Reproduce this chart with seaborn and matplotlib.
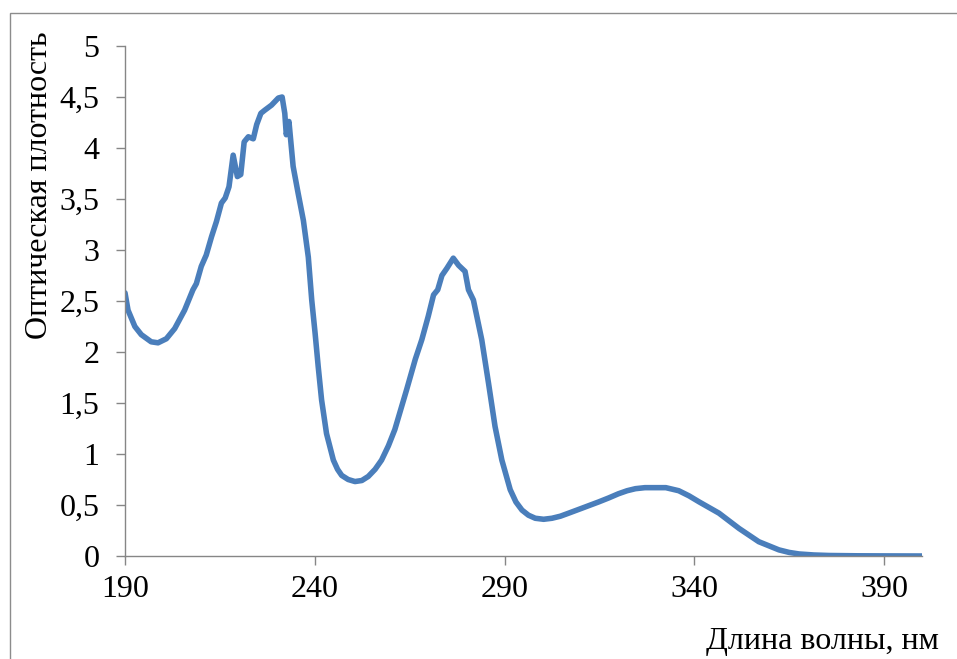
import numpy as np
import pandas as pd
import seaborn as sns
import matplotlib
matplotlib.use("Agg")
import matplotlib.pyplot as plt
from matplotlib.patches import Rectangle
from matplotlib.ticker import FuncFormatter

wavelength = [190, 190.8, 192.6, 194.3, 196.9, 198.7, 200.9, 203.1, 205.7, 207.9,
              208.8, 210.1, 211.4, 212.8, 214.1, 215.4, 216.4, 217.4, 218.5, 219.6,
              220.5, 221.4, 222.5, 223.8, 224.7, 225.8, 226.8, 228.6, 230.4, 231.4,
              232.1, 232.5, 233.2, 234.3, 235.6, 237.0, 238.3, 239.2, 240.1, 240.9,
              241.8, 243.1, 244.9, 246.0, 247.1, 248.8, 250.6, 252.4, 254.1, 255.9,
              257.6, 259.4, 261.1, 264.2, 266.5,
              268.2, 269.9, 271.3, 272.4, 273.5, 274.8, 276.5, 277.9, 279.6, 280.5,
              281.8, 284.0, 285.8, 287.5, 289.3, 291.5, 293.0, 294.6, 296.3, 298.1,
              300.3, 302.5, 304.7, 306.9, 310.5, 314.8, 317.5, 320.0, 322.3, 324.5,
              327.0, 329.3, 332.5, 335.9, 338.6, 341.3, 346.5, 351.8, 357.0,
              362.3, 365.0, 367.6, 371.5, 375.5, 383.0, 390.0, 400.0]
absorbance = [2.58, 2.41, 2.25, 2.17, 2.10, 2.09, 2.13, 2.23, 2.41, 2.61,
              2.67, 2.84, 2.95, 3.13, 3.28, 3.46, 3.51, 3.62, 3.93, 3.72,
              3.74, 4.06, 4.11, 4.09, 4.23, 4.34, 4.37, 4.42, 4.49, 4.50,
              4.34, 4.13, 4.26, 3.82, 3.56, 3.29, 2.93, 2.51, 2.18, 1.86,
              1.53, 1.20, 0.94, 0.85, 0.79, 0.75, 0.73, 0.74, 0.78, 0.85,
              0.94, 1.08, 1.24, 1.63, 1.93,
              2.12, 2.35, 2.56, 2.61, 2.75, 2.82, 2.92, 2.85, 2.79, 2.61,
              2.51, 2.12, 1.69, 1.27, 0.94, 0.65, 0.53, 0.45, 0.40, 0.37,
              0.36, 0.37, 0.39, 0.42, 0.47, 0.53, 0.57, 0.61, 0.64, 0.66,
              0.67, 0.67, 0.67, 0.64, 0.59, 0.53, 0.42, 0.27, 0.14,
              0.06, 0.035, 0.02, 0.01, 0.005, 0.002, 0.001, 0.0]
x_ticks = [190, 240, 290, 340, 390]
y_ticks = [0, 0.5, 1, 1.5, 2, 2.5, 3, 3.5, 4, 4.5, 5]
x_label = "Длина волны, нм"
y_label = "Оптическая плотность"

df = pd.DataFrame({"wl": wavelength, "a": absorbance})

sns.set_theme(style="white")
plt.rcParams["font.family"] = ["Liberation Serif", "DejaVu Serif"]

W, H = 957, 659
fig = plt.figure(figsize=(W / 100, H / 100), dpi=100)
ax = fig.add_axes([125 / W, 1 - 556 / H, (922 - 125) / W, (556 - 46) / H])

sns.lineplot(data=df, x="wl", y="a", ax=ax, color="#4a7ebb", linewidth=4.0)
for ln in ax.lines:
    ln.set_solid_joinstyle("round")
    ln.set_solid_capstyle("round")

ax.set_xlim(190, 400)
ax.set_ylim(0, 5)
ax.set_xticks(x_ticks)
ax.set_yticks(y_ticks)
ax.yaxis.set_major_formatter(FuncFormatter(lambda v, p: ("%g" % v).replace(".", ",")))
ax.set_xlabel("")
ax.set_ylabel("")
for s in ["top", "right"]:
    ax.spines[s].set_visible(False)
for s in ["left", "bottom"]:
    ax.spines[s].set_color("#868686")
    ax.spines[s].set_linewidth(1.0)
ax.tick_params(axis="both", which="major", direction="out", length=6.5, width=1,
               color="#868686", labelsize=23, labelcolor="black",
               left=True, bottom=True)
ax.tick_params(axis="y", pad=12)
ax.tick_params(axis="x", pad=7)

fig.text(40 / W, 1 - 185 / H, y_label, rotation=90, ha="center", va="center",
         fontsize=23, color="black")
fig.text(822 / W, 1 - 641 / H, x_label, ha="center", va="center",
         fontsize=23, color="black")

fig.patches.append(Rectangle((10 / W, -0.1), 1.2, 1 - 13 / H + 0.1,
                             transform=fig.transFigure, fill=False,
                             edgecolor="#8c8c8c", linewidth=1.0))

fig.savefig("out.png", dpi=100)
